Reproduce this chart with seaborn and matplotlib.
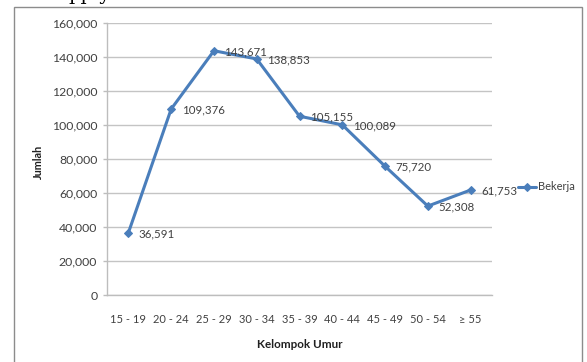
import matplotlib
matplotlib.use("Agg")
import matplotlib.pyplot as plt
import seaborn as sns
import pandas as pd
from matplotlib.patches import Rectangle

categories = ["15 - 19", "20 - 24", "25 - 29", "30 - 34", "35 - 39", "40 - 44", "45 - 49", "50 - 54", "\u2265 55"]
bekerja = [36591, 109376, 143671, 138853, 105155, 100089, 75720, 52308, 61753]
value_labels = ["36,591", "109,376", "143,671", "138,853", "105,155", "100,089", "75,720", "52,308", "61,753"]
y_ticks = [0, 20000, 40000, 60000, 80000, 100000, 120000, 140000, 160000]
y_tick_labels = ["0", "20,000", "40,000", "60,000", "80,000", "100,000", "120,000", "140,000", "160,000"]

sns.set_style("white")
plt.rcParams["font.family"] = ["Lato", "DejaVu Sans"]

W, H = 587, 362
fig = plt.figure(figsize=(W / 100, H / 100), dpi=100)
fig.patch.set_facecolor("white")

ax = fig.add_axes([107 / W, 1 - 295 / H, (492 - 107) / W, (295 - 23) / H])

df = pd.DataFrame({"Kelompok Umur": categories, "Jumlah": bekerja})
line_color = "#4A7EBB"
sns.lineplot(data=df, x="Kelompok Umur", y="Jumlah", sort=False, ax=ax,
             color=line_color, lw=2.2, marker="D", markersize=4.5,
             markeredgecolor=line_color, label="Bekerja")

for i, (v, lab) in enumerate(zip(bekerja, value_labels)):
    ax.annotate(lab, (i, v), xytext=(7.5, -0.5), textcoords="offset points",
                va="center", ha="left", fontsize=8.3, color="#404040")

ax.set_xlim(-0.5, len(categories) - 0.5)
ax.set_ylim(0, 160000)
ax.set_yticks(y_ticks)
ax.set_yticklabels(y_tick_labels)
ax.yaxis.grid(True, color="#C4C4C4", lw=1)
ax.set_axisbelow(True)
for s in ["top", "right"]:
    ax.spines[s].set_visible(False)
ax.spines["left"].set_color("#BDBDBD")
ax.spines["bottom"].set_color("#BDBDBD")
ax.spines["left"].set_linewidth(1)
ax.spines["bottom"].set_linewidth(1)
ax.tick_params(axis="y", left=True, length=3, width=1, color="#BDBDBD",
               labelsize=8.8, labelcolor="#404040", pad=4)
ax.tick_params(axis="x", bottom=False, labelsize=8, labelcolor="#404040", pad=10)

ax.set_xlabel("Kelompok Umur", fontsize=8.4, fontweight="bold", color="#202020", labelpad=10)
ax.set_ylabel("")
fig.text(38 / W, 1 - 162 / H, "Jumlah", rotation=90, fontsize=7.8, fontweight="bold",
         color="#202020", ha="center", va="center")

leg = ax.legend(loc="center left", bbox_to_anchor=(514 / W, 1 - 187 / H),
                bbox_transform=fig.transFigure, frameon=False, fontsize=8,
                handlelength=1.6, handletextpad=0.2, borderaxespad=0)
for t in leg.get_texts():
    t.set_color("#404040")

# outer chart border
fig.patches.append(Rectangle((14 / W, -0.05), (582 - 14) / W, 1.05 - 7 / H,
                             transform=fig.transFigure, fill=False,
                             edgecolor="#8C8C8C", lw=1))

# fragment of the document text above the chart (only descenders show)
fig.text(68 / W, 1 - 0.5 / H, "pply", family="DejaVu Serif", fontsize=14,
         ha="left", va="baseline", color="black")

fig.savefig("out.png", dpi=100)
